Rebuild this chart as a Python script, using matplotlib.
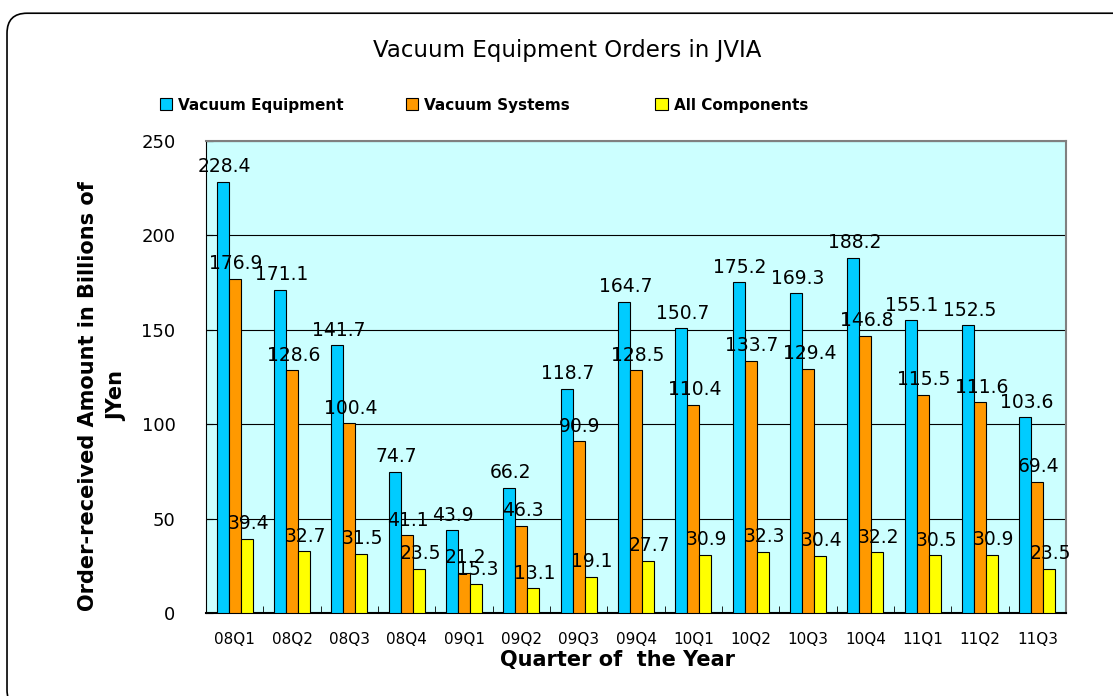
import matplotlib
matplotlib.use("Agg")
import matplotlib.pyplot as plt
import numpy as np
from matplotlib.patches import FancyBboxPatch, Patch

quarters = ["08Q1", "08Q2", "08Q3", "08Q4", "09Q1", "09Q2", "09Q3", "09Q4",
            "10Q1", "10Q2", "10Q3", "10Q4", "11Q1", "11Q2", "11Q3"]
vacuum_equipment = [228.4, 171.1, 141.7, 74.7, 43.9, 66.2, 118.7, 164.7,
                    150.7, 175.2, 169.3, 188.2, 155.1, 152.5, 103.6]
vacuum_systems = [176.9, 128.6, 100.4, 41.1, 21.2, 46.3, 90.9, 128.5,
                  110.4, 133.7, 129.4, 146.8, 115.5, 111.6, 69.4]
all_components = [39.4, 32.7, 31.5, 23.5, 15.3, 13.1, 19.1, 27.7,
                  30.9, 32.3, 30.4, 32.2, 30.5, 30.9, 23.5]
series_names = ["Vacuum Equipment", "Vacuum Systems", "All Components"]
colors = ["#00CCFF", "#FF9900", "#FFFF00"]


def main() -> None:
    fig = plt.figure(figsize=(11.13, 6.96), dpi=100)
    ax = fig.add_axes([0.1851, 0.1193, 0.7727, 0.6781])
    ax.set_facecolor("#CCFFFF")

    x = np.arange(len(quarters))
    width = 0.21
    for i, (vals, col) in enumerate(zip([vacuum_equipment, vacuum_systems, all_components], colors)):
        pos = x + (i - 1) * width
        ax.bar(pos, vals, width, color=col, edgecolor="black", linewidth=0.8, zorder=3)
        for px, v in zip(pos, vals):
            ax.annotate(f"{v:.1f}", (px, v), xytext=(1, 4), textcoords="offset points",
                        ha="center", va="bottom", fontsize=13.5, zorder=5)

    ax.set_xlim(-0.5, len(quarters) - 0.5)
    ax.set_ylim(0, 250)
    ax.set_yticks([0, 50, 100, 150, 200, 250])
    ax.set_xticks(x)
    ax.set_xticklabels(quarters, fontsize=11)
    ax.set_xticks(np.arange(len(quarters) + 1) - 0.5, minor=True)
    ax.tick_params(axis="x", which="major", length=0, pad=14)
    ax.tick_params(axis="x", which="minor", direction="in", length=5)
    ax.tick_params(axis="y", direction="in", length=5, pad=22, labelsize=13)

    ax.yaxis.grid(True, color="black", linewidth=0.8, zorder=1)
    ax.set_axisbelow(True)
    ax.spines["left"].set_color("black")
    ax.spines["bottom"].set_color("black")
    ax.spines["bottom"].set_linewidth(1.5)
    ax.spines["top"].set_color("#808080")
    ax.spines["top"].set_linewidth(1.5)
    ax.spines["right"].set_color("#808080")
    ax.spines["right"].set_linewidth(1.5)

    fig.text(0.51, 0.928, "Vacuum Equipment Orders in JVIA", ha="center", va="center",
             fontsize=16.5, fontweight="medium")
    fig.text(0.555, 0.052, "Quarter of  the Year", ha="center", va="center",
             fontsize=15, fontweight="bold")
    fig.text(0.092, 0.431, "Order-received Amount in Billions of\nJYen", ha="center",
             va="center", rotation=90, fontsize=15, fontweight="bold", linespacing=1.6)

    # one legend per entry so the entries sit where the original puts them
    legend_x = [0.131, 0.352, 0.5765]
    for name, col, lx in zip(series_names, colors, legend_x):
        handle = Patch(facecolor=col, edgecolor="black", linewidth=0.8)
        fig.legend([handle], [name], loc="center left", bbox_to_anchor=(lx, 0.849),
                   frameon=False, prop={"weight": "bold", "size": 11},
                   handlelength=0.8, handleheight=0.8, handletextpad=0.4)

    border = FancyBboxPatch((0.0063, -0.02), 1.02, 1.001, transform=fig.transFigure,
                            boxstyle="round,pad=0,rounding_size=0.018", mutation_aspect=1.6,
                            facecolor="none", edgecolor="black", linewidth=1.2)
    fig.patches.append(border)

    fig.savefig("out.png", dpi=100)
    plt.close(fig)


if __name__ == "__main__":
    main()
